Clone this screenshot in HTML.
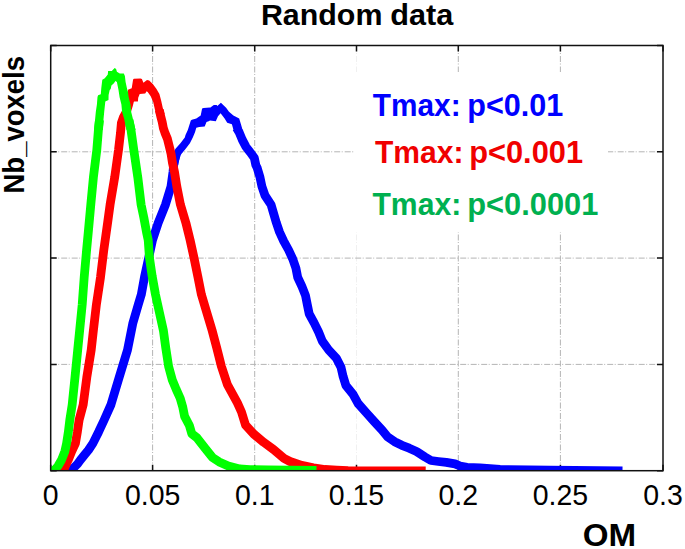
<!DOCTYPE html>
<html><head><meta charset="utf-8"><style>
html,body{margin:0;padding:0;background:#fff;}
svg{display:block;}
text{font-family:"Liberation Sans",sans-serif;}
</style></head><body>
<svg width="685" height="549" viewBox="0 0 685 549">
<rect width="685" height="549" fill="#fff"/>
<defs><clipPath id="c"><rect x="50.7" y="45.5" width="612.3" height="425.2"/></clipPath></defs>
<g stroke="#b4b4b4" stroke-width="1" stroke-dasharray="6 1.5 1 2" fill="none"><line x1="152.6" y1="45.5" x2="152.6" y2="470.7"/><line x1="254.7" y1="45.5" x2="254.7" y2="470.7"/><line x1="356.5" y1="45.5" x2="356.5" y2="470.7" opacity="0.2"/><line x1="458.3" y1="45.5" x2="458.3" y2="470.7"/><line x1="560.4" y1="45.5" x2="560.4" y2="470.7"/><line x1="50.7" y1="151.80" x2="663.0" y2="151.80"/><line x1="50.7" y1="258.10" x2="663.0" y2="258.10"/><line x1="50.7" y1="364.40" x2="663.0" y2="364.40"/></g>
<rect x="355" y="72" width="253" height="160" fill="#fff"/>
<path d="M50.7 470.7v-6M50.7 45.5v6M152.6 470.7v-6M152.6 45.5v6M254.7 470.7v-6M254.7 45.5v6M356.5 470.7v-6M356.5 45.5v6M458.3 470.7v-6M458.3 45.5v6M560.4 470.7v-6M560.4 45.5v6M663.0 470.7v-6M663.0 45.5v6M50.7 45.50h6M663.0 45.50h-6M50.7 151.80h6M663.0 151.80h-6M50.7 258.10h6M663.0 258.10h-6M50.7 364.40h6M663.0 364.40h-6M50.7 470.70h6M663.0 470.70h-6" stroke="#111" stroke-width="1.5" fill="none"/>
<g clip-path="url(#c)" fill="none" stroke-width="8.8" stroke-linejoin="round" stroke-linecap="butt">
<g stroke="#0000ff"><polyline points="71.0,472.0 74.0,467.5 77.5,464.0 80.4,460.0 84.4,455.0 88.5,450.0 92.9,443.4 98.7,431.7 103.7,421.0 111.0,404.6 119.2,377.3 127.5,350.0 132.9,322.9 138.3,304.6 141.3,294.6 144.5,277.0 148.6,258.2 152.5,240.0 158.2,222.9 165.5,204.6 171.0,186.4 173.0,172.0 174.0,162.0 176.0,155.0"/><polyline points="236.5,128.0 239.2,132.3 242.2,139.6 246.0,146.9 250.0,152.0 254.3,157.8 255.8,165.0 257.3,168.2 260.0,177.3 261.9,186.4 265.0,195.5 271.0,204.6 273.7,213.8 276.4,222.9 279.5,232.0 283.7,241.1 288.6,250.0 292.8,259.1 295.9,268.2 297.7,277.3 301.9,286.4 305.5,295.5 307.3,304.6 309.2,313.8 314.1,322.9 318.6,332.0 322.3,341.1 328.7,350.0 336.4,358.2 341.0,367.3 343.1,376.4 345.9,385.5 353.2,394.6 358.3,403.8 366.4,412.9 374.6,422.0 382.0,430.0 387.3,436.6 394.6,441.7 401.9,445.3 409.2,448.2 416.5,451.5 420.0,453.8 425.0,457.0 431.0,460.5 438.4,461.5 446.3,462.4 455.0,463.9 460.0,466.0 467.0,467.4 480.0,468.0 500.0,469.5 550.0,470.2 622.5,471.0"/><polygon fill="#0000ff" stroke="none" points="175.3,149.1 180.4,143.2 184.8,137.4 185.5,135.0 187.8,130.0 190.8,120.5 191.9,119.8 196.3,118.4 200.7,115.4 202.1,108.5 203.6,108.1 209.8,107.4 210.0,107.8 213.8,104.9 216.7,104.9 217.3,106.0 220.9,102.7 226.1,107.8 229.0,111.8 233.4,115.4 239.2,118.4 241.4,125.7 242.5,130.0 233.5,130.0 231.9,124.2 227.2,122.7 224.6,118.4 220.6,113.2 218.0,116.2 215.8,121.3 210.0,120.5 208.7,121.3 206.5,122.0 204.7,126.4 199.2,127.1 196.3,127.8 195.0,132.3 192.8,137.4 189.9,143.2 185.5,149.1 181.2,154.2 179.7,157.8 178.2,165.0 169.5,165.0 172.0,157.0"/></g>
<g stroke="#ff0000"><polyline points="63.0,472.0 65.3,466.2 68.2,460.0 71.7,451.3 75.4,443.4 77.4,431.7 79.1,420.0 83.2,404.6 86.8,377.3 91.2,350.0 93.2,332.0 96.4,304.6 100.5,277.3 103.8,250.0 107.6,222.9 110.1,204.6 114.7,177.3 118.5,150.0 120.5,132.8 121.4,123.0 123.5,117.0 126.5,111.5 128.5,105.0 130.0,99.0"/><polyline points="159.3,110.0 160.9,116.9 162.2,122.0 163.3,127.8 165.0,133.0 167.4,138.7 170.1,149.6 171.1,154.0 172.5,163.0 174.5,172.0 176.8,186.4 180.4,204.6 185.9,222.9 190.1,240.0 194.1,258.2 197.8,276.4 201.4,294.6 206.9,312.9 212.3,331.1 216.8,348.2 221.4,366.4 227.4,384.6 237.4,402.9 241.5,412.0 245.5,425.0 253.7,434.0 263.7,442.3 273.7,449.6 284.0,458.3 290.0,461.5 301.7,465.4 313.4,467.8 325.0,469.5 336.7,470.1 348.0,470.7 425.7,471.0"/><polygon fill="#ff0000" stroke="none" points="127.5,95.0 128.0,89.7 131.7,88.2 133.1,79.5 133.9,78.8 140.4,78.4 141.9,79.1 143.4,82.8 147.0,79.9 149.2,80.6 152.8,83.9 156.5,89.0 159.4,94.1 161.2,100.7 162.8,108.0 164.6,114.0 156.0,114.0 155.0,110.0 153.2,102.1 150.7,96.3 147.7,91.9 146.6,91.2 145.2,93.4 139.7,94.1 138.2,97.7 137.9,101.4 131.7,101.4 130.5,104.0 128.0,108.0"/></g>
<g stroke="#00ff00"><polyline points="51.0,472.0 55.0,469.5 58.0,466.0 61.5,460.0 64.9,451.3 66.6,443.4 68.4,431.7 69.8,420.0 72.2,404.6 75.0,377.3 77.7,350.0 79.5,332.0 82.2,304.6 84.2,277.3 86.6,250.0 88.3,232.0 90.8,204.6 93.4,177.3 96.8,150.0 98.4,130.0 99.5,120.0"/><polyline points="129.0,120.0 131.0,130.0 133.8,150.0 137.8,177.3 141.1,204.6 143.8,217.4 146.5,232.0 148.2,240.0 149.5,258.2 152.2,276.4 155.5,294.6 159.5,312.9 163.4,330.5 165.8,348.2 168.6,366.4 172.3,380.0 176.1,389.1 180.2,398.2 182.8,407.3 184.6,416.4 189.4,425.5 191.8,433.7 196.9,437.8 205.5,448.7 212.3,457.3 219.2,461.9 228.3,466.0 239.6,469.0 250.0,469.6 268.0,470.0 290.0,470.2 316.5,470.4"/><polygon fill="#00ff00" stroke="none" points="94.0,130.0 95.1,119.2 95.8,111.9 96.9,104.6 97.5,97.0 98.1,95.2 100.8,94.3 101.3,88.0 102.3,79.7 104.8,78.2 107.8,74.6 108.1,70.9 111.8,70.9 113.2,69.5 114.7,68.0 116.1,69.1 116.9,71.7 119.8,73.5 123.8,73.5 124.9,76.0 125.6,81.9 127.1,89.1 128.0,92.0 128.7,97.3 130.5,104.6 131.2,111.9 133.0,119.2 135.6,130.0 126.5,130.0 124.3,119.2 122.1,111.9 121.4,104.6 119.6,97.3 118.5,90.0 117.6,85.5 116.9,81.9 115.4,81.1 113.9,83.3 111.4,85.5 110.7,89.1 109.7,90.0 108.6,95.1 108.5,100.0 105.3,101.5 105.0,104.6 104.2,111.9 103.5,119.2 102.8,130.0"/></g>
</g>
<rect x="50.7" y="45.5" width="612.3" height="425.2" fill="none" stroke="#111" stroke-width="1.5"/>
<g font-size="29.8" fill="#000"><text x="50.7" y="505.2" text-anchor="middle" textLength="15.8" lengthAdjust="spacingAndGlyphs">0</text><text x="152.6" y="505.2" text-anchor="middle" textLength="55.4" lengthAdjust="spacingAndGlyphs">0.05</text><text x="254.7" y="505.2" text-anchor="middle" textLength="39.6" lengthAdjust="spacingAndGlyphs">0.1</text><text x="356.5" y="505.2" text-anchor="middle" textLength="55.4" lengthAdjust="spacingAndGlyphs">0.15</text><text x="458.3" y="505.2" text-anchor="middle" textLength="39.6" lengthAdjust="spacingAndGlyphs">0.2</text><text x="560.4" y="505.2" text-anchor="middle" textLength="55.4" lengthAdjust="spacingAndGlyphs">0.25</text><text x="663.0" y="505.2" text-anchor="middle" textLength="39.6" lengthAdjust="spacingAndGlyphs">0.3</text></g>
<text x="260.9" y="25.1" font-size="30.1" font-weight="bold" textLength="121.55" lengthAdjust="spacingAndGlyphs">Random</text>
<text x="390.3" y="25.1" font-size="30.1" font-weight="bold" textLength="63.05" lengthAdjust="spacingAndGlyphs">data</text>
<text x="582.8" y="545.7" font-size="30.5" font-weight="bold" textLength="53.4" lengthAdjust="spacingAndGlyphs">OM</text>
<text transform="translate(23.6,193.5) rotate(-90)" font-size="29.8" font-weight="bold" textLength="137.5" lengthAdjust="spacingAndGlyphs">Nb_voxels</text>
<g font-size="31.8" font-weight="bold">
<text x="372.8" y="116.4" fill="#0000ff" textLength="87.8" lengthAdjust="spacingAndGlyphs">Tmax:</text>
<text x="467.25" y="116.4" fill="#0000ff" textLength="96.1" lengthAdjust="spacingAndGlyphs">p&lt;0.01</text>
<text x="375.0" y="163.3" fill="#f00000" textLength="88.5" lengthAdjust="spacingAndGlyphs">Tmax:</text>
<text x="469.25" y="163.3" fill="#f00000" textLength="113.75" lengthAdjust="spacingAndGlyphs">p&lt;0.001</text>
<text x="372.45" y="214.5" fill="#00b050" textLength="88.85" lengthAdjust="spacingAndGlyphs">Tmax:</text>
<text x="467.25" y="214.5" fill="#00b050" textLength="131.1" lengthAdjust="spacingAndGlyphs">p&lt;0.0001</text>
</g>
</svg>
</body></html>
